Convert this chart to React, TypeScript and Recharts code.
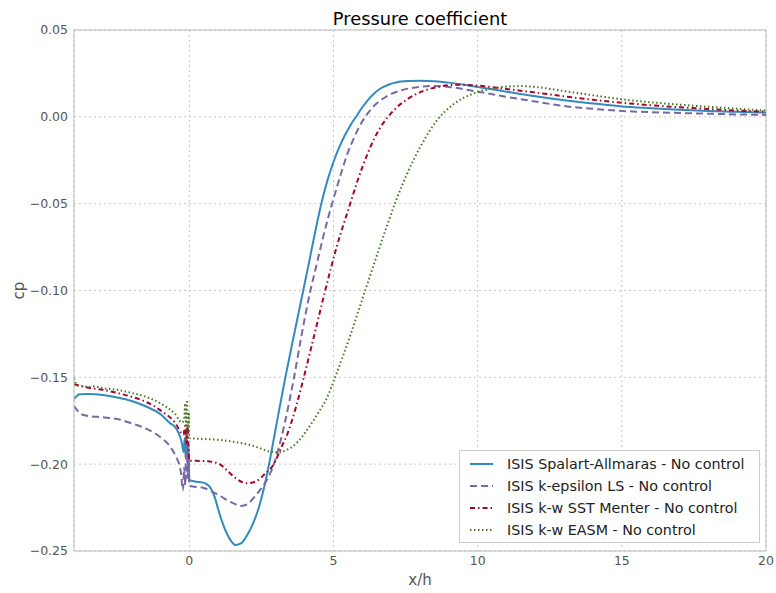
import { LineChart, Line, XAxis, YAxis, CartesianGrid, Legend, ReferenceLine } from 'recharts';

const FONT = '"DejaVu Sans", "Liberation Sans", sans-serif';

// x/h stations and pressure coefficient for each turbulence model
const saX = [-4, -3.8, -3.5, -3, -2.5, -2, -1.5, -1, -0.66, -0.5, -0.25, -0.2, -0.16, -0.13, -0.1, -0.07, -0.03, 0, 0.2, 0.45, 0.6, 0.75, 0.9, 1.0, 1.2, 1.4, 1.6, 1.8, 2.0, 2.2, 2.4, 2.6, 2.8, 3.0, 3.33, 3.65, 3.95, 4.1, 4.3, 4.45, 4.6, 4.8, 5.0, 5.2, 5.4, 5.6, 5.8, 6.0, 6.2, 6.4, 6.63, 6.9, 7.2, 7.6, 8.0, 8.5, 9, 10, 11, 12, 13, 14, 15, 16, 17, 18, 19, 20];
const saCp = [-0.1625, -0.1598, -0.1596, -0.1602, -0.1616, -0.1636, -0.1668, -0.1712, -0.1765, -0.1785, -0.1885, -0.193, -0.185, -0.196, -0.184, -0.2, -0.188, -0.209, -0.21, -0.2105, -0.2115, -0.214, -0.22, -0.226, -0.236, -0.243, -0.2465, -0.2455, -0.241, -0.2345, -0.2255, -0.213, -0.197, -0.179, -0.15, -0.124, -0.1, -0.088, -0.0715, -0.0595, -0.0485, -0.036, -0.026, -0.0175, -0.0105, -0.0045, 0.0005, 0.0055, 0.0098, 0.0133, 0.0163, 0.0185, 0.0199, 0.0206, 0.0208, 0.0205, 0.0197, 0.0172, 0.0145, 0.0118, 0.0095, 0.0077, 0.006, 0.005, 0.0041, 0.0034, 0.0029, 0.0024];

const keX = [-4, -3.8, -3.6, -3, -2.5, -2, -1.5, -1, -0.66, -0.5, -0.3, -0.22, -0.18, -0.14, -0.1, -0.06, -0.03, 0, 0.5, 1.0, 1.5, 1.8, 2.0, 2.3, 2.6, 2.8, 3.0, 3.3, 3.62, 3.9, 4.2, 4.4, 4.6, 4.8, 4.95, 5.1, 5.3, 5.5, 5.7, 5.9, 6.1, 6.4, 6.74, 7.0, 7.33, 7.7, 8.0, 8.5, 9, 10, 11, 12, 13, 14, 15, 16, 17, 18, 19, 20];
const keCp = [-0.1665, -0.1705, -0.172, -0.173, -0.174, -0.1765, -0.1795, -0.1845, -0.19, -0.1945, -0.204, -0.215, -0.202, -0.212, -0.18, -0.208, -0.195, -0.2125, -0.2137, -0.2177, -0.2223, -0.2241, -0.2232, -0.218, -0.2115, -0.2055, -0.1965, -0.177, -0.151, -0.125, -0.1, -0.086, -0.072, -0.059, -0.05, -0.0415, -0.0305, -0.0205, -0.0125, -0.0055, 0, 0.0062, 0.0107, 0.0132, 0.0152, 0.0166, 0.0173, 0.0178, 0.0172, 0.0145, 0.0115, 0.0088, 0.0062, 0.0046, 0.0034, 0.0027, 0.0022, 0.0018, 0.0014, 0.0011];

const sstX = [-4, -3.5, -3, -2.5, -2, -1.5, -1, -0.5, -0.2, -0.15, -0.1, -0.06, -0.03, 0, 0.5, 1.0, 1.3, 1.6, 2.0, 2.3, 2.6, 2.93, 3.2, 3.41, 3.7, 3.97, 4.35, 4.69, 5.1, 5.57, 5.8, 6.0, 6.2, 6.4, 6.65, 6.89, 7.2, 7.67, 8.1, 8.66, 9.3, 10, 11, 12, 13, 14, 15, 16, 17, 18, 19, 20];
const sstCp = [-0.154, -0.156, -0.1572, -0.159, -0.1612, -0.1642, -0.169, -0.176, -0.183, -0.178, -0.188, -0.177, -0.19, -0.198, -0.1982, -0.1995, -0.2035, -0.208, -0.211, -0.21, -0.206, -0.2, -0.19, -0.1822, -0.167, -0.15, -0.1245, -0.1015, -0.0755, -0.0505, -0.0385, -0.029, -0.0205, -0.013, -0.0055, 0, 0.0055, 0.0113, 0.0148, 0.0173, 0.0185, 0.018, 0.016, 0.014, 0.0118, 0.0098, 0.0081, 0.0067, 0.0055, 0.0045, 0.0036, 0.003];

const easmX = [-4, -3.9, -3.7, -3.5, -3.3, -3, -2.5, -2, -1.5, -1, -0.5, -0.25, -0.18, -0.14, -0.11, -0.08, -0.05, -0.02, 0, 0.5, 1.0, 1.5, 2.12, 2.47, 2.81, 3.1, 3.28, 3.74, 4.03, 4.43, 4.78, 5.01, 5.3, 5.59, 5.82, 6.05, 6.28, 6.52, 6.86, 7.15, 7.56, 8.02, 8.6, 9.18, 9.87, 10.5, 11, 11.5, 12, 13, 14, 15, 16, 17, 18, 19, 20];
const easmCp = [-0.1505, -0.1545, -0.155, -0.1556, -0.1552, -0.1562, -0.1572, -0.159, -0.1612, -0.165, -0.171, -0.176, -0.174, -0.165, -0.18, -0.163, -0.179, -0.17, -0.185, -0.1855, -0.186, -0.187, -0.189, -0.1909, -0.1928, -0.1932, -0.1925, -0.1875, -0.1815, -0.1715, -0.1615, -0.152, -0.139, -0.1255, -0.114, -0.1025, -0.091, -0.079, -0.0625, -0.049, -0.0325, -0.017, -0.0018, 0.0075, 0.0135, 0.0163, 0.0174, 0.0177, 0.0172, 0.0148, 0.0124, 0.0101, 0.0084, 0.007, 0.0058, 0.0047, 0.0036];

const xTicks = [0, 5, 10, 15, 20];
const yTicks = [-0.25, -0.2, -0.15, -0.1, -0.05, 0, 0.05];

const toPoints = (xs: number[], ys: number[]) => xs.map((x, i) => ({ x, cp: ys[i] }));

const series = [
  { name: 'ISIS Spalart-Allmaras - No control', data: toPoints(saX, saCp), color: '#348ABD', dash: undefined },
  { name: 'ISIS k-epsilon LS - No control', data: toPoints(keX, keCp), color: '#7A68A6', dash: '7 4' },
  { name: 'ISIS k-w SST Menter - No control', data: toPoints(sstX, sstCp), color: '#A60628', dash: '5 3 1.5 3' },
  { name: 'ISIS k-w EASM - No control', data: toPoints(easmX, easmCp), color: '#467821', dash: '1.5 2.5' },
];

const fmtY = (v: number) => (v < 0 ? '\u2212' : '') + Math.abs(v).toFixed(2);

const renderLegend = () => (
  <div
    style={{
      border: '1px solid #cccccc',
      background: '#fff',
      padding: '2px 0 2px 0',
      fontFamily: FONT,
      fontSize: 14.3,
      color: '#222',
      boxSizing: 'border-box',
      width: 301,
      height: 93,
    }}
  >
    {series.map((s) => (
      <div key={s.name} style={{ display: 'flex', alignItems: 'center', height: 22 }}>
        <svg width={47} height={10} style={{ flex: 'none' }}>
          <line x1={10} y1={5} x2={33} y2={5} stroke={s.color} strokeWidth={2} strokeDasharray={s.dash} />
        </svg>
        <span style={{ whiteSpace: 'nowrap' }}>{s.name}</span>
      </div>
    ))}
  </div>
);

export default function App() {
  return (
    <div style={{ position: 'absolute', left: 0, top: 0, background: '#fff' }}>
      <LineChart width={776} height={593} margin={{ top: 30, right: 10, bottom: 0, left: 0 }}>
        <text x={420} y={25} textAnchor="middle" fontSize={17.8} fontFamily={FONT} fill="#000">
          Pressure coefficient
        </text>
        <CartesianGrid stroke="#c8c8c8" strokeDasharray="2 3" />
        <XAxis
          dataKey="x"
          type="number"
          domain={[-4, 20]}
          ticks={xTicks}
          allowDataOverflow
          height={42}
          tickLine={false}
          tickSize={0}
          tickMargin={5}
          axisLine={{ stroke: '#bcbcbc' }}
          tick={{ fill: '#555555', fontSize: 12.5, fontFamily: FONT }}
          label={{ value: 'x/h', position: 'insideBottom', offset: 8, fill: '#555555', fontSize: 15, fontFamily: FONT }}
        />
        <YAxis
          type="number"
          domain={[-0.25, 0.05]}
          ticks={yTicks}
          allowDataOverflow
          width={74}
          tickLine={false}
          tickSize={0}
          tickMargin={6}
          tickFormatter={fmtY}
          axisLine={{ stroke: '#bcbcbc' }}
          tick={{ fill: '#555555', fontSize: 12.5, fontFamily: FONT }}
          label={{ value: 'cp', angle: -90, position: 'insideLeft', offset: 19, fill: '#555555', fontSize: 15, fontFamily: FONT, style: { textAnchor: 'middle' } }}
        />
        <ReferenceLine y={0.05} stroke="#bcbcbc" />
        <ReferenceLine x={20} stroke="#bcbcbc" />
        {series.map((s) => (
          <Line
            key={s.name}
            data={s.data}
            dataKey="cp"
            name={s.name}
            type="monotone"
            stroke={s.color}
            strokeWidth={2}
            strokeDasharray={s.dash}
            dot={false}
            activeDot={false}
            isAnimationActive={false}
          />
        ))}
        <Legend
          layout="vertical"
          align="center"
          verticalAlign="middle"
          wrapperStyle={{ position: 'absolute', left: 459, top: 450, width: 301, height: 93 }}
          content={renderLegend}
        />
      </LineChart>
    </div>
  );
}
